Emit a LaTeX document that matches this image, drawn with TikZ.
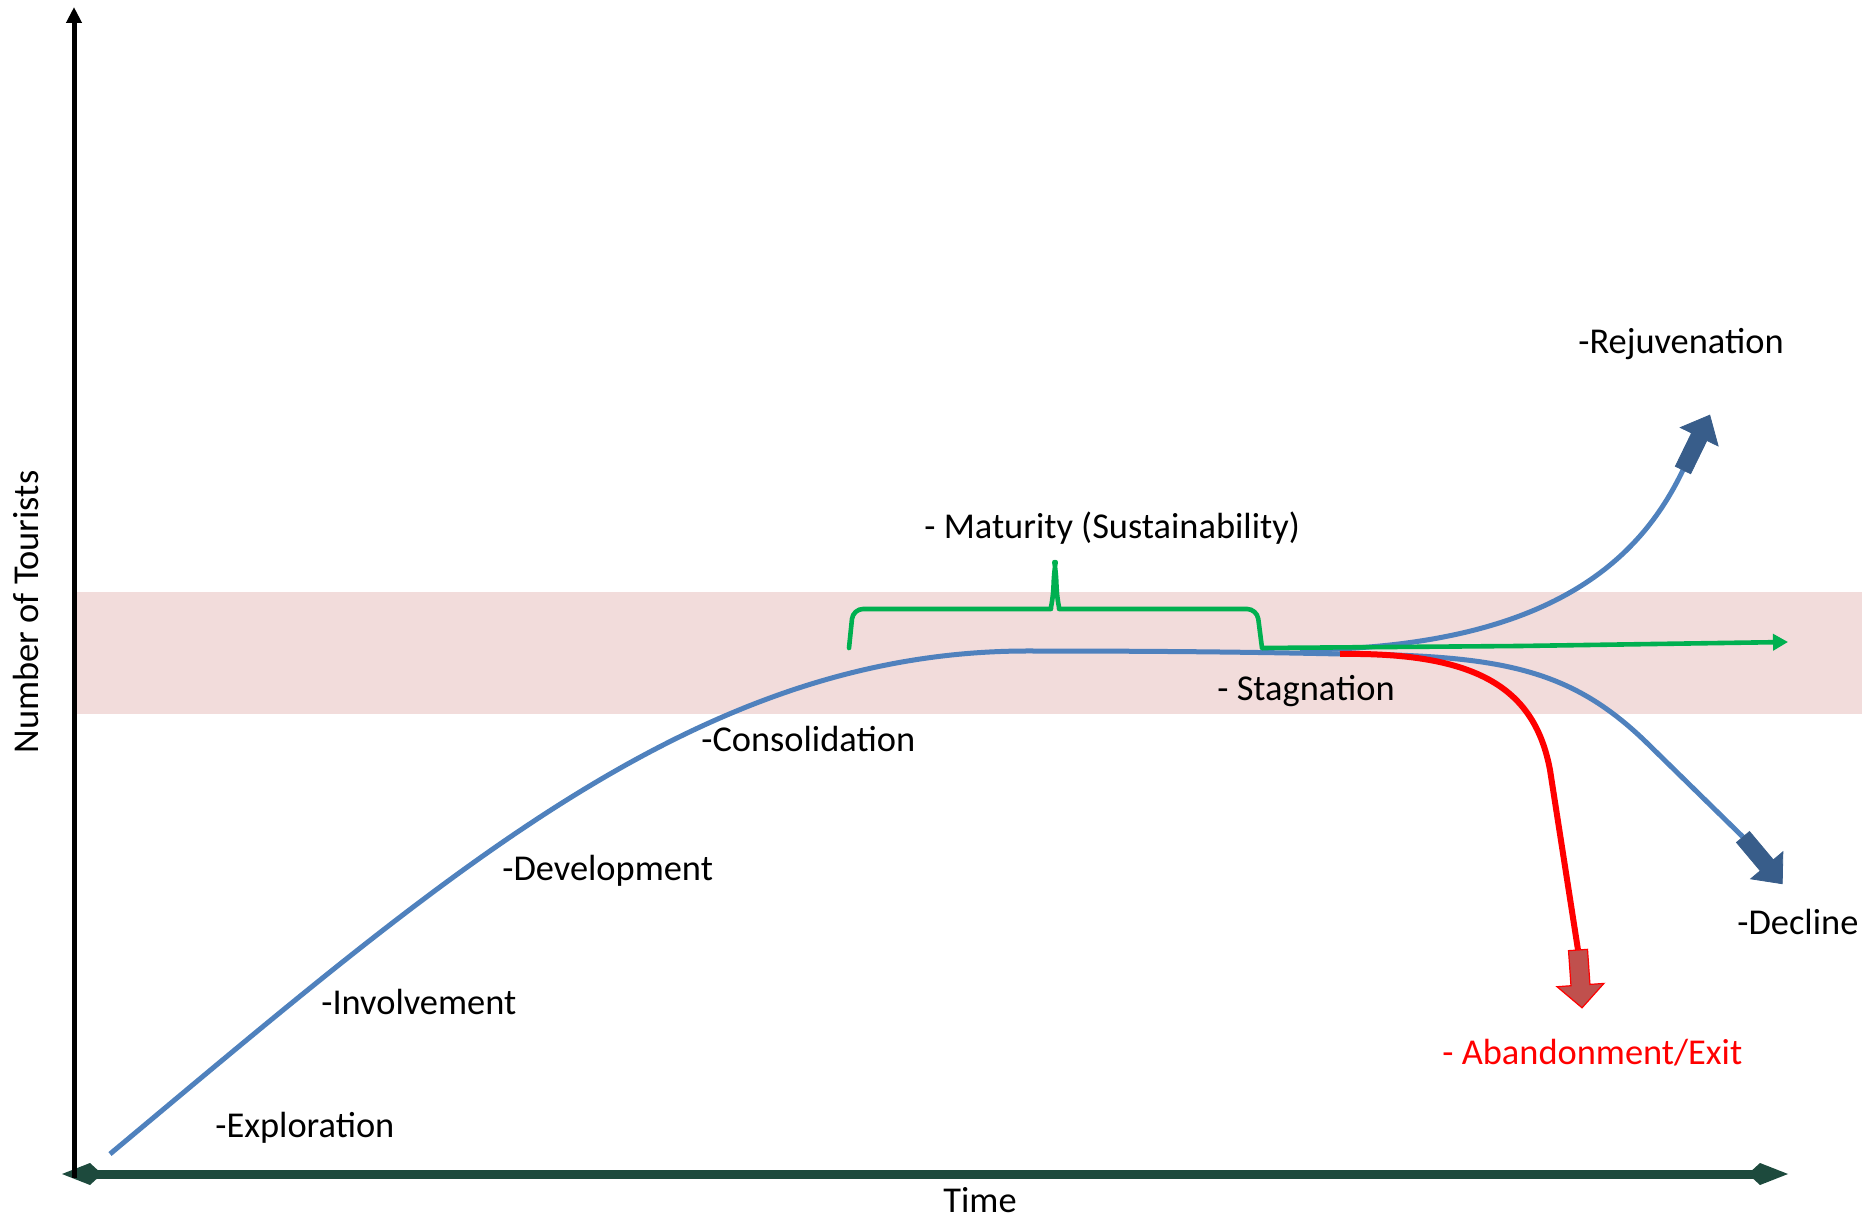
\documentclass[tikz,border=0pt]{standalone}
\usepackage{fontspec}
\setmainfont{Carlito}
\usetikzlibrary{arrows.meta}
\definecolor{axisgreen}{RGB}{29,74,61}
\definecolor{tourblue}{HTML}{4F81BD}
\definecolor{headblue}{HTML}{385D8A}
\definecolor{headred}{HTML}{C0504D}
\definecolor{phasegreen}{HTML}{00B050}
\definecolor{bandpink}{HTML}{F2DCDB}
\newcommand{\lblfont}{\fontsize{18.2pt}{22pt}\selectfont}
% block arrow head: base point, angle, style
\newcommand{\blockhead}[3]{\filldraw[shift={#1},rotate=#2,#3] (0,-8.5) -- (37,-8.5) -- (37,-21) -- (61,0) -- (37,21) -- (37,8.5) -- (0,8.5) -- cycle;}

\begin{document}
\begin{tikzpicture}[x=0.5pt,y=-0.5pt,
	lbl/.style={font=\lblfont,anchor=west,inner sep=0pt},
	curve/.style={line width=2.5pt,tourblue},
	phase/.style={line width=2.3pt,phasegreen}]
	\useasboundingbox (0,0) rectangle (1862,1218);
	% stable band
	\fill[bandpink] (76,592) rectangle (1862,714);
	% axes
	\draw[line width=4.5pt,axisgreen,{Kite[length=20pt,width=11pt,inset=6pt]}-{Kite[length=20pt,width=11pt,inset=6pt]}] (62,1174) -- (1788,1174);
	\draw[line width=2.5pt,-{Triangle[length=8pt,width=7.5pt]}] (74,1178) -- (74,7);
	\node[lbl,anchor=base] (time) at (980,1212) {Time};
	\node[lbl,anchor=center,rotate=90] (ntour) at (26,612) {Number of Tourists};
	% life cycle
	\coordinate (stag) at (1340,654);
	\draw[curve] (110,1154) .. controls (450,870) and (700,650) .. (1030,651) .. controls (1150,651) and (1250,652) .. (stag);
	% rejuvenation
	\draw[curve] (1300,650) .. controls (1550,648) and (1640,560) .. (1683,470) coordinate (rejuvend);
	\blockhead{(rejuvend)}{64}{headblue}
	% decline
	\draw[curve] (stag) .. controls (1500,655) and (1570,668) .. (1647,743) -- (1743,837) coordinate (declend);
	\blockhead{(declend)}{-50}{headblue}
	% abandonment
	\draw[line width=3pt,red] (stag) .. controls (1480,652) and (1535,690) .. (1550,770) -- (1578,950) coordinate (exitend);
	\blockhead{(exitend)}{-86}{fill=headred,draw=red,line width=0.6pt,xscale=0.95,yscale=1.12}
	% maturity brace
	\draw[phase,rounded corners=5pt,line cap=round,line join=round] (849,648) -- (853,609) -- (1041,609) .. controls (1050,609) and (1053,603) .. (1054,572) .. controls (1055,566) and (1055,566) .. (1056,572) .. controls (1057,603) and (1060,609) .. (1069,609) -- (1257,609) -- (1262,648) coordinate (braceend);
	\draw[phase,-{Triangle[length=7.5pt,width=8pt]}] (braceend) -- (1520,646) -- (1788,642);
	% phases
	\node[lbl] (rejuv) at (1578,344) {-Rejuvenation};
	\node[lbl] (maturity) at (924,528) {- Maturity (Sustainability)};
	\node[lbl] (stagn) at (1217,691) {- Stagnation};
	\node[lbl] (consol) at (701,739) {-Consolidation};
	\node[lbl] (devel) at (502,871) {-Development};
	\node[lbl] (involv) at (321,1002) {-Involvement};
	\node[lbl] (explor) at (215,1128) {-Exploration};
	\node[lbl] (decline) at (1737,922) {-Decline};
	\node[lbl,text=red] (exit) at (1442,1053) {- Abandonment/Exit};
\end{tikzpicture}
\end{document}
